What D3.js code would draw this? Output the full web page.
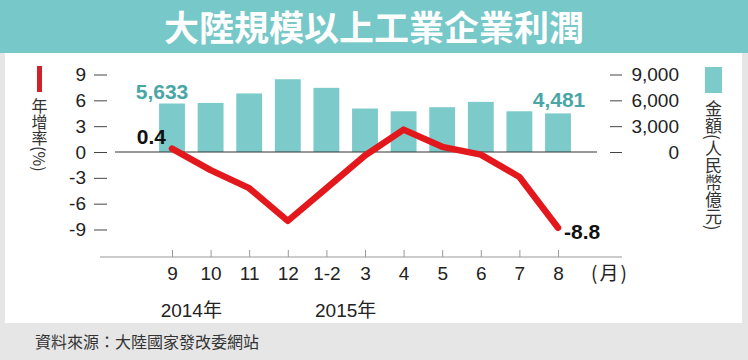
<!DOCTYPE html>
<html><head><meta charset="utf-8">
<script src="https://cdn.jsdelivr.net/npm/d3@7"></script>
<style>
html,body{margin:0;padding:0;background:#e6e6e6;}
svg{display:block;}
text{font-family:"Liberation Sans",Arial,"Noto Sans CJK TC",sans-serif;}
</style></head>
<body>
<svg id="chart" width="748" height="360"></svg>
<script>
const title = "大陸規模以上工業企業利潤";
const categories = ["9","10","11","12","1-2","3","4","5","6","7","8"];
const profitValues = [5633, 5700, 6800, 8450, 7450, 5050, 4730, 5200, 5820, 4730, 4481];
const growthValues = [0.4, -2.1, -4.2, -8.0, -4.2, -0.4, 2.6, 0.6, -0.3, -2.9, -8.8];
const leftTicks = [9, 6, 3, 0, -3, -6, -9];
const rightTicks = [9000, 6000, 3000, 0];
const yearLabels = [{text:"2014年", from:"9", to:"10"}, {text:"2015年", from:"1-2", to:"3"}];
const leftLegend = "年增率(%)";
const rightLegend = "金額(人民幣億元)";
const monthUnit = "(月)";
const source = "資料來源：大陸國家發改委網站";

const teal = "#7ccaca", tealText = "#4aa6a6", red = "#e3181d", cjk = '"Noto Sans CJK TC","Noto Sans CJK SC",sans-serif';
const svg = d3.select("#chart");

// backgrounds
svg.append("rect").attr("x",0).attr("y",0).attr("width",748).attr("height",360).attr("fill","#e6e6e6");
svg.append("rect").attr("x",5).attr("y",53).attr("width",737).attr("height",270).attr("fill","#fff");
svg.append("rect").attr("x",0).attr("y",0).attr("width",748).attr("height",53).attr("fill","#77c8c8");
svg.append("text").attr("x",374).attr("y",41).attr("text-anchor","middle")
  .style("font-family",cjk).style("font-weight",700).style("font-size","35px").attr("fill","#fff").text(title);

// scales
const x = d3.scalePoint().domain(categories).range([172, 558]);
const bw = x.step() * 0.67;
const yL = d3.scaleLinear().domain([-9, 9]).range([229.5, 74.5]);
const yR = d3.scaleLinear().domain([-9000, 9000]).range([229.5, 74.5]);

// bars
svg.append("g").selectAll("rect").data(profitValues).join("rect")
  .attr("x",(d,i)=>x(categories[i]) - bw/2).attr("width",bw)
  .attr("y",d=>yR(d)).attr("height",d=>yR(0)-yR(d)).attr("fill",teal);

// zero line
svg.append("line").attr("x1",115).attr("x2",597).attr("y1",yL(0)).attr("y2",yL(0)).attr("stroke","#333").attr("stroke-width",1.2);

// left axis
const la = svg.append("g").attr("transform","translate(107,0)")
  .call(d3.axisLeft(yL).tickValues(leftTicks).tickSize(13).tickPadding(8).tickFormat(d=>d));
la.select(".domain").remove();
la.selectAll("line").attr("stroke","#444");
la.selectAll("text").style("font-size","19px").attr("fill","#222").style("font-family","Liberation Sans, Arial, sans-serif");

// right axis
const ra = svg.append("g").attr("transform","translate(610,0)")
  .call(d3.axisRight(yR).tickValues(rightTicks).tickSize(12).tickPadding(8).tickFormat(d3.format(",")));
ra.select(".domain").remove();
ra.selectAll("line").attr("stroke","#444");
ra.selectAll("text").attr("x",69).attr("text-anchor","end").style("font-size","19px").attr("fill","#222").style("font-family","Liberation Sans, Arial, sans-serif");

// x axis
const xa = svg.append("g").attr("transform","translate(0,257)")
  .call(d3.axisBottom(x).tickSize(-7).tickPadding(10));
xa.select(".domain").attr("d","M100,0H622").attr("stroke","#999");
xa.selectAll("line").attr("stroke","#999");
xa.selectAll("text").attr("y",23).attr("dy",0).style("font-size","19px").attr("fill","#222").style("font-family","Liberation Sans, Arial, sans-serif");
svg.append("text").attr("x",591).attr("y",280).style("font-size","19px").style("letter-spacing","2px").attr("fill","#222")
  .style("font-family",cjk).text(monthUnit);
svg.append("g").selectAll("text").data(yearLabels).join("text")
  .attr("x",d=>(x(d.from)+x(d.to))/2).attr("y",317).attr("text-anchor","middle")
  .style("font-size","19px").attr("fill","#222").text(d=>d.text);

// growth line
const line = d3.line().x((d,i)=>x(categories[i])).y(d=>yL(d));
svg.append("path").datum(growthValues).attr("d",line).attr("fill","none")
  .attr("stroke",red).attr("stroke-width",6.5).attr("stroke-linejoin","round").attr("stroke-linecap","round");

// value labels
const last = categories.length - 1;
svg.append("text").attr("x",x(categories[0]) - 10).attr("y",yR(profitValues[0]) - 4).attr("text-anchor","middle")
  .style("font-size","21px").style("font-weight",700).attr("fill",tealText).text(d3.format(",")(profitValues[0]));
svg.append("text").attr("x",x(categories[last]) + 1).attr("y",yR(profitValues[last]) - 6).attr("text-anchor","middle")
  .style("font-size","21px").style("font-weight",700).attr("fill",tealText).text(d3.format(",")(profitValues[last]));
svg.append("text").attr("x",x(categories[0]) - 6).attr("y",yL(growthValues[0]) - 5).attr("text-anchor","end")
  .style("font-size","21px").style("font-weight",700).attr("fill","#111").text(growthValues[0]);
svg.append("text").attr("x",x(categories[last]) + 6).attr("y",yL(growthValues[last]) + 11).attr("text-anchor","start")
  .style("font-size","21px").style("font-weight",700).attr("fill","#111").text(growthValues[last]);

// legends
svg.append("rect").attr("x",37).attr("y",66).attr("width",5).attr("height",26).attr("fill","#d42027");
svg.append("text").attr("x",39.5).attr("y",98).style("writing-mode","vertical-rl").style("font-family",cjk)
  .style("font-size","16px").attr("fill","#333").text(leftLegend);
svg.append("rect").attr("x",705).attr("y",67).attr("width",17).attr("height",26).attr("fill",teal);
svg.append("text").attr("x",713.5).attr("y",100).style("writing-mode","vertical-rl").style("font-family",cjk)
  .style("font-size","17px").attr("fill","#333").text(rightLegend);

// source
svg.append("text").attr("x",35).attr("y",348).style("font-family",cjk).style("font-size","16px").attr("fill","#333").text(source);
</script>
</body></html>
